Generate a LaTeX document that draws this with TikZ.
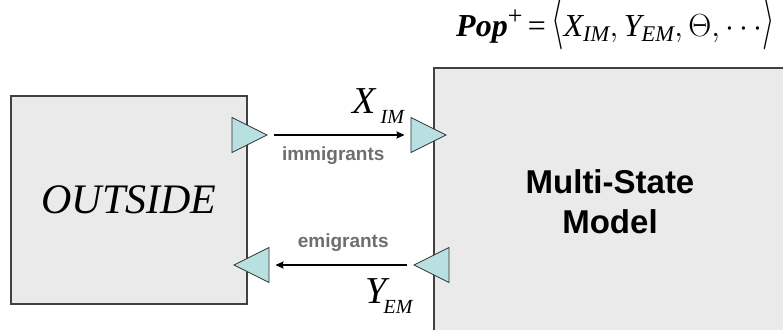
\RequirePackage{fix-cm}
\documentclass[tikz,border=0pt]{standalone}
\usepackage{graphicx}
\usepackage{fontspec}
\setmainfont{Liberation Serif}
\setsansfont{Liberation Sans}
\usepackage{xcolor}
\definecolor{boxfill}{RGB}{234,234,234}
\definecolor{boxline}{RGB}{64,64,64}
\definecolor{portfill}{RGB}{185,224,224}
\definecolor{lblgray}{RGB}{110,110,110}
\usepackage{tikz}
\usetikzlibrary{arrows.meta,positioning,shapes.geometric,calc}
\tikzset{
  box/.style={draw=boxline,fill=boxfill,line width=1.5pt,inner sep=0pt,align=center},
  port/.style={isosceles triangle,isosceles triangle stretches,draw=black!80,%
    fill=portfill,line width=0.8pt,minimum width=35pt,minimum height=35pt,inner sep=0pt},
  flow/.style={-{Stealth[length=8pt,width=7pt,inset=1pt]},line width=1.8pt,%
    shorten <=6pt,shorten >=6pt},
  lbl/.style={font=\fontsize{19}{19}\selectfont\sffamily\bfseries,text=lblgray},
  sym/.style={inner sep=0pt,anchor=base west},
}
\newcommand{\sublbl}[3]{\textit{#1}\kern#3\raisebox{-10pt}{\fontsize{20}{20}\selectfont\textit{#2}}}
\newcommand{\tallbr}[1]{\smash{\raisebox{1pt}{\scalebox{1}[1.8]{$#1$}}}}

\begin{document}
\begin{tikzpicture}[x=1pt,y=-1pt]
\useasboundingbox (0,0) rectangle (783,329);
\clip (0,0) rectangle (783,329);
% the two blocks
\node[box,minimum width=236pt,minimum height=208pt,%
  font=\fontsize{42}{42}\selectfont\itshape] (outside) at (129,200) {OUTSIDE};
\node[box,minimum width=352pt,minimum height=268pt,%
  font=\fontsize{33}{40}\selectfont\sffamily\bfseries] (model) at (610,202) {Multi-State\\Model};
% ports
\node[port,anchor=apex] (imOut) at (268,135) {};
\node[port,anchor=apex] (imIn) at (447,135) {};
\node[port,shape border rotate=180,anchor=apex] (emIn) at (413,265) {};
\node[port,shape border rotate=180,anchor=apex] (emOut) at (233,265) {};
% flows
\draw[flow] (imOut.apex) -- (imIn.west)
  node[lbl,midway,below=7pt,xshift=-6pt] (imLbl) {immigrants};
\draw[flow] (emIn.apex) -- (emOut.east)
  node[lbl,midway,above=9pt,xshift=2pt] (emLbl) {emigrants};
\node[sym,font=\fontsize{38}{38}\selectfont] (xim) at (352,113) {\sublbl{X}{IM}{4pt}};
\node[sym,font=\fontsize{38}{38}\selectfont] (yem) at (365,303) {\sublbl{Y}{EM}{-6pt}};
\node[sym,font=\fontsize{32}{38}\selectfont] (pop) at (456,37)
  {\textbf{\textit{Pop}}\raisebox{12pt}{\fontsize{26}{26}\selectfont +}\,=\,%
  \tallbr{\langle}$\mathit{X}_{\mathit{IM}},\mathit{Y}_{\mathit{EM}},\Theta,\cdots$\tallbr{\rangle}};
\end{tikzpicture}
\end{document}
